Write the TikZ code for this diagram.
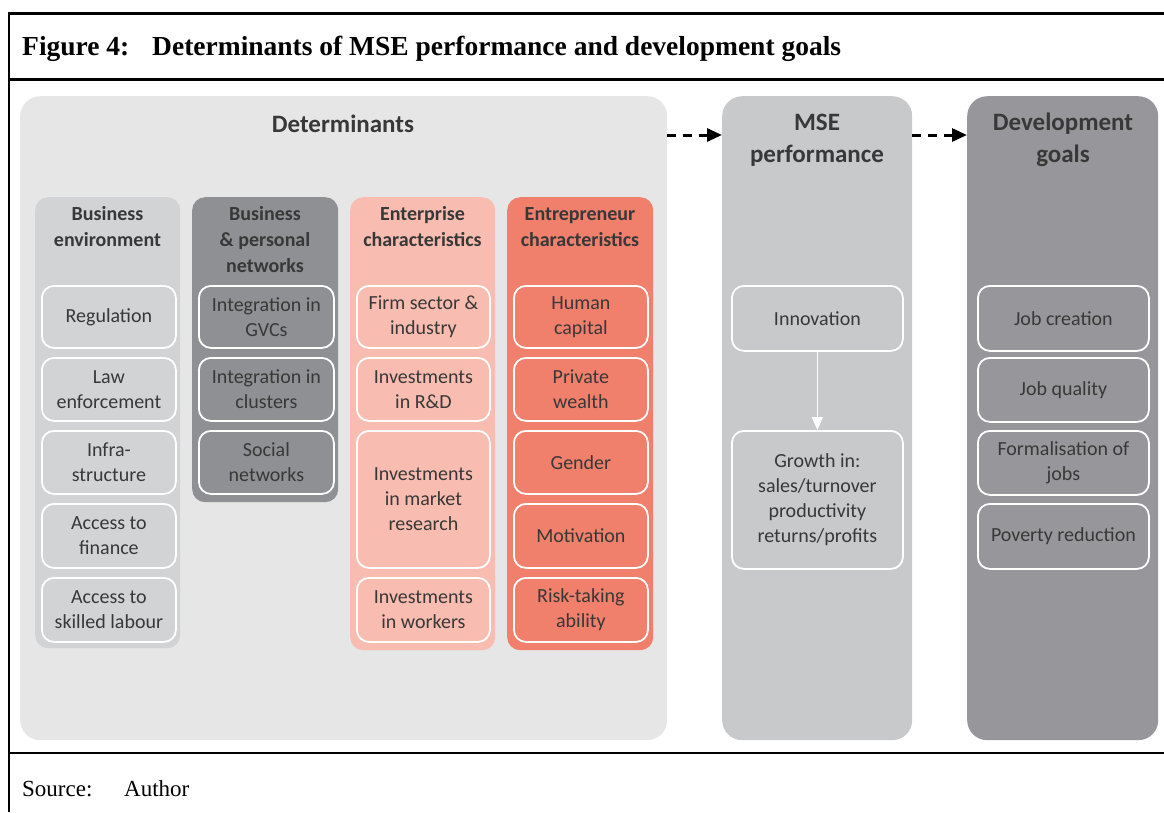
\documentclass[tikz,border=0pt]{standalone}
\usepackage{fontspec}
\setmainfont{Carlito}
\newfontfamily\titlefont{Liberation Serif}
\usetikzlibrary{arrows.meta,calc}
\definecolor{detbg}{HTML}{E6E6E6}
\definecolor{msebg}{HTML}{C8C9CB}
\definecolor{devbg}{HTML}{97979B}
\definecolor{benvbg}{HTML}{D2D3D5}
\definecolor{bnetbg}{HTML}{8F9094}
\definecolor{entbg}{HTML}{F9BCB0}
\definecolor{entrbg}{HTML}{F07F6B}
\definecolor{txt}{HTML}{383838}
\tikzset{
  bigbox/.style={rounded corners=20pt, draw=none, anchor=north west, inner sep=0pt},
  colbox/.style={rounded corners=13pt, draw=none, anchor=north west, inner sep=0pt},
  itembox/.style={draw=white, line width=1.8pt, rounded corners=12pt, align=center,
    anchor=north west, inner sep=0pt, text=txt, font=\fontsize{20}{25}\selectfont},
  coltitle/.style={align=center, text=txt, inner sep=0pt, font=\bfseries\fontsize{20}{26}\selectfont},
  bigtitle/.style={align=center, text=txt, inner sep=0pt, font=\bfseries\fontsize{25}{32}\selectfont},
  flowarrow/.style={line width=3pt, dash pattern=on 9pt off 7pt, -{Triangle[length=15pt,width=13pt]}},
  framerule/.style={line width=2.5pt, black},
  captext/.style={anchor=base west, inner sep=0pt, font=\titlefont\fontsize{23}{26}\selectfont},
  headtext/.style={anchor=base west, inner sep=0pt, font=\titlefont\bfseries\fontsize{27.5}{30}\selectfont}
}
\begin{document}
\begin{tikzpicture}[x=1pt,y=-1pt]
\useasboundingbox (0,0) rectangle (1164,812);
% frame
\draw[framerule] (9,13.5) -- (1164,13.5);
\draw[framerule] (9,79.5) -- (1164,79.5);
\draw[line width=2pt] (9,753) -- (1164,753);
\draw[line width=2.5pt] (9,12.3) -- (9,812);
\node[headtext] (figlab) at (22,55) {Figure 4:};
\node[headtext] (figtitle) at (152,55) {Determinants of MSE performance and development goals};
\node[captext] (srclab) at (22,796) {Source:};
\node[captext] (srcname) at (124,796) {Author};
% big boxes
\node[bigbox, fill=detbg, minimum width=647pt, minimum height=644pt] (det) at (20,96) {};
\node[bigbox, fill=msebg, minimum width=190pt, minimum height=644pt] (mse) at (722,96) {};
\node[bigbox, fill=devbg, minimum width=191pt, minimum height=644pt] (dev) at (967,96) {};
\node[bigtitle] (dettitle) at (343,124) {Determinants};
\node[bigtitle] (msetitle) at (817,140) {MSE\\performance};
\node[bigtitle] (devtitle) at (1063,140) {Development\\goals};
% arrows
\coordinate (arrowy) at (0,135);
\draw[flowarrow] (det.east |- arrowy) -- (mse.west |- arrowy);
\draw[flowarrow] (mse.east |- arrowy) -- (dev.west |- arrowy);
% columns
\node[colbox, fill=benvbg, minimum width=145pt, minimum height=451pt] (benv) at (35,197) {};
\node[colbox, fill=bnetbg, minimum width=146pt, minimum height=305pt] (bnet) at (192,197) {};
\node[colbox, fill=entbg, minimum width=145pt, minimum height=453pt] (ent) at (350,197) {};
\node[colbox, fill=entrbg, minimum width=146pt, minimum height=453pt] (entr) at (507,197) {};
\node[coltitle] (benvtitle) at (107.5,227) {Business\\environment};
\node[coltitle] (bnettitle) at (265,240) {Business\\\& personal\\networks};
\node[coltitle] (enttitle) at (422.5,227) {Enterprise\\characteristics};
\node[coltitle] (entrtitle) at (580,227) {Entrepreneur\\characteristics};
% business environment items
\node[itembox, minimum width=134pt, minimum height=62pt] (reg) at (41,285) {Regulation};
\node[itembox, minimum width=134pt, minimum height=63pt] (law) at (41,357) {Law\\enforcement};
\node[itembox, minimum width=134pt, minimum height=63pt] (infra) at (41,430) {Infra-\\structure};
\node[itembox, minimum width=134pt, minimum height=64pt] (fin) at (41,503) {Access to\\finance};
\node[itembox, minimum width=134pt, minimum height=64pt] (lab) at (41,577) {Access to\\skilled labour};
% networks items
\node[itembox, minimum width=135pt, minimum height=62pt] (gvc) at (198,285) {Integration in\\GVCs};
\node[itembox, minimum width=135pt, minimum height=63pt] (clu) at (198,357) {Integration in\\clusters};
\node[itembox, minimum width=135pt, minimum height=63pt] (soc) at (198,430) {Social\\networks};
% enterprise items
\node[itembox, minimum width=133pt, minimum height=62pt] (firm) at (356,285) {Firm sector \&\\industry};
\node[itembox, minimum width=133pt, minimum height=63pt] (rd) at (356,357) {Investments\\in R\&D};
\node[itembox, minimum width=133pt, minimum height=137pt] (mkt) at (356,430) {Investments\\in market\\research};
\node[itembox, minimum width=133pt, minimum height=64pt] (wrk) at (356,577) {Investments\\in workers};
% entrepreneur items
\node[itembox, minimum width=134pt, minimum height=62pt] (hum) at (513,285) {Human\\capital};
\node[itembox, minimum width=134pt, minimum height=63pt] (wealth) at (513,357) {Private\\wealth};
\node[itembox, minimum width=134pt, minimum height=63pt] (gen) at (513,430) {Gender};
\node[itembox, minimum width=134pt, minimum height=64pt] (mot) at (513,503) {Motivation};
\node[itembox, minimum width=134pt, minimum height=64pt] (risk) at (513,577) {Risk-taking\\ability};
% MSE items
\node[itembox, minimum width=171pt, minimum height=65pt] (innov) at (731,285) {Innovation};
\node[itembox, minimum width=171pt, minimum height=138pt] (growth) at (731,430) {Growth in:\\sales/turnover\\productivity\\returns/profits};
\draw[white, line width=1.5pt, -{Triangle[length=13pt,width=11pt,fill=white]}] (innov.south) -- (innov.south |- growth.north);
% development items
\node[itembox, minimum width=171pt, minimum height=65pt] (jobc) at (977,285) {Job creation};
\node[itembox, minimum width=171pt, minimum height=64pt] (jobq) at (977,357) {Job quality};
\node[itembox, minimum width=171pt, minimum height=64pt] (form) at (977,430) {Formalisation of\\jobs};
\node[itembox, minimum width=171pt, minimum height=65pt] (pov) at (977,503) {Poverty reduction};
\end{tikzpicture}
\end{document}
